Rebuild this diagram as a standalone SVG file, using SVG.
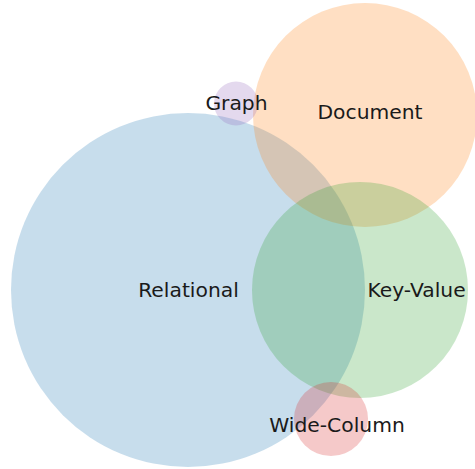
<svg xmlns="http://www.w3.org/2000/svg" width="475" height="469" viewBox="0 0 475 469">
<style>
.c{fill-opacity:0.25;stroke:none}
.t{font-family:"DejaVu Sans",sans-serif;font-size:20.3px;fill:#1a1a1a;text-anchor:middle}
</style>
<rect width="475" height="469" fill="#ffffff"/>
<g id="relational"><circle class="c" cx="188" cy="290" r="177" fill="#1f77b4"/></g>
<g id="document"><circle class="c" cx="365" cy="115" r="112" fill="#ff7f0e"/></g>
<g id="keyvalue"><circle class="c" cx="360" cy="290" r="108" fill="#2ca02c"/></g>
<g id="graph"><circle class="c" cx="236" cy="103.5" r="22" fill="#9467bd"/></g>
<g id="widecolumn"><circle class="c" cx="331" cy="419" r="37" fill="#d62728"/></g>
<g id="connectors"></g>
<g id="labels">
<text class="t" x="188.5" y="297">Relational</text>
<text class="t" x="370" y="119">Document</text>
<text class="t" x="416.5" y="297">Key-Value</text>
<text class="t" x="236.5" y="110">Graph</text>
<text class="t" x="337" y="432">Wide-Column</text>
</g>
</svg>
